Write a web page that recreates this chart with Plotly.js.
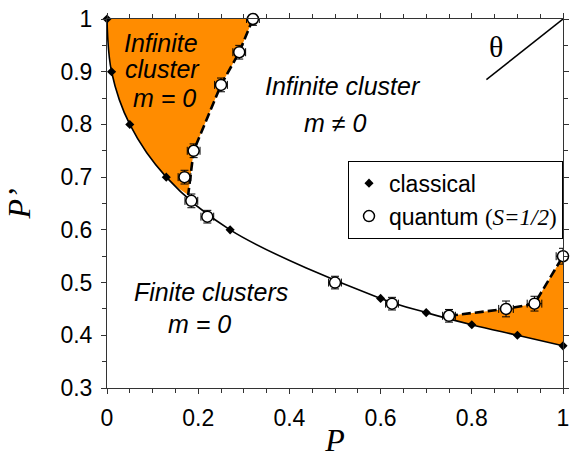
<!DOCTYPE html>
<html>
<head>
<meta charset="utf-8">
<script src="https://cdn.plot.ly/plotly-3.0.1.min.js"></script>
<style>html,body{margin:0;padding:0;background:#fff;}#chart{width:579px;height:458px;}</style>
</head>
<body>
<div id="chart"></div>
<script>
// Classical data (black diamonds)
const classicalP  = [0, 0.01, 0.05, 0.13, 0.27, 0.6, 0.7, 0.8, 0.9, 1.0];
const classicalPp = [1.0, 0.9, 0.8, 0.7, 0.6, 0.47, 0.443, 0.42, 0.40, 0.38];

// Quantum S=1/2 data (open circles with error bars)
const quantumP   = [0.32, 0.29, 0.25, 0.19, 0.17, 0.185, 0.22, 0.5, 0.625, 0.75, 0.875, 0.9375, 1.0];
const quantumPp  = [1.0, 0.937, 0.875, 0.75, 0.70, 0.655, 0.625, 0.5, 0.46, 0.437, 0.45, 0.46, 0.55];
const quantumErrP  = [0.014, 0.014, 0.014, 0.014, 0.014, 0.014, 0.014, 0.014, 0.014, 0.014, 0.016, 0.016, 0.015];
const quantumErrPp = [0.012, 0.013, 0.013, 0.013, 0.013, 0.013, 0.012, 0.012, 0.012, 0.012, 0.015, 0.014, 0.015];

// Quantum phase boundaries (dashed lines)
const boundLeftP  = [0.32, 0.29, 0.25, 0.19, 0.178];
const boundLeftPp = [1.0, 0.937, 0.875, 0.75, 0.666];
const boundRightP  = [0.75, 0.875, 0.9375, 1.0];
const boundRightPp = [0.437, 0.45, 0.46, 0.55];

// Classical boundary segments enclosing the orange regions
const lowLeftP  = [0, 0.01, 0.05, 0.13, 0.178];
const lowLeftPp = [1.0, 0.9, 0.8, 0.7, 0.666];
const lowRightP  = [0.75, 0.8, 0.9, 1.0];
const lowRightPp = [0.432, 0.42, 0.40, 0.38];

const orange = '#FF8C00';
const SANS = 'Liberation Sans, Arial, sans-serif';
const SERIF = 'Liberation Serif, Times New Roman, serif';

const traces = [
  {x: lowLeftP, y: lowLeftPp, mode: 'lines', line: {width: 0, shape: 'spline'}, showlegend: false, hoverinfo: 'skip'},
  {x: [0].concat(boundLeftP), y: [1.0].concat(boundLeftPp), mode: 'lines', line: {width: 0}, fill: 'tonexty', fillcolor: orange, showlegend: false, hoverinfo: 'skip'},
  {x: lowRightP, y: lowRightPp, mode: 'lines', line: {width: 0, shape: 'spline'}, showlegend: false, hoverinfo: 'skip'},
  {x: boundRightP, y: boundRightPp, mode: 'lines', line: {width: 0}, fill: 'tonexty', fillcolor: orange, showlegend: false, hoverinfo: 'skip'},
  {x: classicalP, y: classicalPp, mode: 'lines', line: {color: '#000', width: 1.6, shape: 'spline'}, showlegend: false, cliponaxis: false},
  {x: boundLeftP, y: boundLeftPp, mode: 'lines', line: {color: '#000', width: 2.6, dash: '9px,4px'}, showlegend: false, cliponaxis: false},
  {x: boundRightP, y: boundRightPp, mode: 'lines', line: {color: '#000', width: 2.6, dash: '9px,4px'}, showlegend: false, cliponaxis: false},
  {x: classicalP, y: classicalPp, mode: 'markers', name: 'classical', cliponaxis: false,
   marker: {symbol: 'diamond', size: 7, color: '#000', line: {width: 0}}},
  {x: quantumP, y: quantumPp, mode: 'markers', name: 'quantum <span style="font-family:Liberation Serif, serif">(<i>S=1/2</i>)</span>', cliponaxis: false,
   marker: {symbol: 'circle', size: 11, color: '#fff', line: {width: 1.5, color: '#000'}},
   error_x: {type: 'data', array: quantumErrP, visible: true, color: '#000', thickness: 1, width: 4},
   error_y: {type: 'data', array: quantumErrPp, visible: true, color: '#000', thickness: 1, width: 4}}
];

const axisCommon = {
  showgrid: false, zeroline: false, showline: true, linecolor: '#333', linewidth: 1,
  mirror: 'allticks', ticks: 'outside', ticklen: 5, tickwidth: 1, tickcolor: '#333',
  tickfont: {family: SANS, size: 23, color: '#000'},
  ticklabelstandoff: 4
};

const layout = {
  width: 579, height: 458,
  margin: {l: 107, r: 16, t: 19, b: 70},
  paper_bgcolor: '#fff', plot_bgcolor: '#fff',
  xaxis: Object.assign({}, axisCommon, {
    range: [0, 1], tick0: 0, dtick: 0.2,
    minor: {dtick: 0.05, ticks: 'outside', ticklen: 4, tickcolor: '#333', showgrid: false},
    title: {text: '<i>P</i>', font: {family: SERIF, size: 32, color: '#000'}, standoff: 12}
  }),
  yaxis: Object.assign({}, axisCommon, {
    range: [0.3, 1], tick0: 0.3, dtick: 0.1,
    minor: {dtick: 0.05, ticks: 'outside', ticklen: 4, tickcolor: '#333', showgrid: false},
    title: {text: '<i>P’</i>', font: {family: SERIF, size: 32, color: '#000'}, standoff: 20}
  }),
  showlegend: true,
  legend: {
    x: 1, xanchor: 'right', y: 0.616, yanchor: 'top', traceorder: 'normal',
    bgcolor: '#fff', bordercolor: '#000', borderwidth: 1,
    font: {family: SANS, size: 23, color: '#000'}, tracegroupgap: 0, itemwidth: 30
  },
  annotations: [
    {text: 'Infinite', x: 0.119, y: 0.955},
    {text: 'cluster', x: 0.122, y: 0.9045},
    {text: 'm = 0', x: 0.1255, y: 0.8495},
    {text: 'Infinite cluster', x: 0.518, y: 0.872},
    {text: 'm ≠ 0', x: 0.5, y: 0.803},
    {text: 'Finite clusters', x: 0.227, y: 0.4825},
    {text: 'm = 0', x: 0.202, y: 0.421}
  ].map(a => Object.assign({xref: 'x', yref: 'y', showarrow: false, xanchor: 'center', yanchor: 'middle',
      font: {family: SANS, size: 25, color: '#000', style: 'italic'}}, a)).concat([
    {text: 'θ', x: 0.852, y: 0.948, xref: 'x', yref: 'y', showarrow: false, xanchor: 'center', yanchor: 'middle',
     font: {family: SERIF, size: 30, color: '#000'}}
  ]),
  shapes: [
    {type: 'line', xref: 'x', yref: 'y', x0: 0.832, y0: 0.885, x1: 1, y1: 1, line: {color: '#000', width: 1.5}}
  ]
};

Plotly.newPlot('chart', traces, layout, {staticPlot: true, displayModeBar: false});
</script>
</body>
</html>
